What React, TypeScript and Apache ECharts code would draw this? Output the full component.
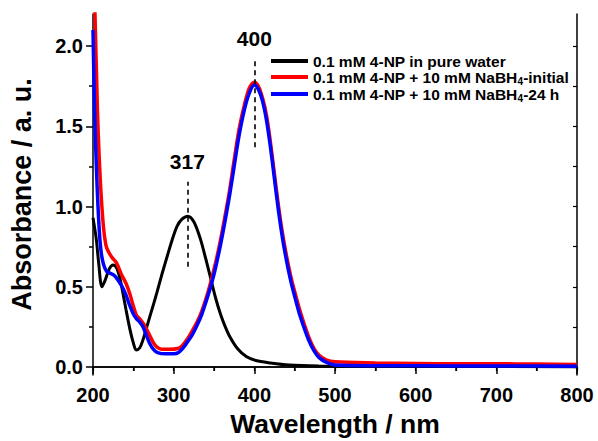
import React, { useEffect, useRef } from "react";
import * as echarts from "echarts";

const seriesNames = [
  "0.1 mM 4-NP in pure water",
  "0.1 mM 4-NP + 10 mM NaBH4-initial",
  "0.1 mM 4-NP + 10 mM NaBH4-24 h",
];

const wlWater = [200, 204, 207, 211, 215, 220, 225, 229, 233, 236, 241, 246, 250, 253.5, 258, 262, 266.7, 272, 279, 285, 292, 298, 304, 310, 317.5, 325, 333, 340, 346, 352, 358, 364, 370, 379, 390, 402, 420, 443, 480, 550, 650, 800];
const absWater = [0.93, 0.8, 0.65, 0.5, 0.54, 0.61, 0.635, 0.62, 0.56, 0.49, 0.355, 0.23, 0.15, 0.106, 0.12, 0.17, 0.25, 0.34, 0.46, 0.57, 0.69, 0.79, 0.875, 0.92, 0.94, 0.905, 0.8, 0.67, 0.55, 0.43, 0.33, 0.25, 0.185, 0.115, 0.065, 0.04, 0.025, 0.012, 0.006, 0.004, 0.003, 0.002];

const wlInitial = [200, 202.5, 205.5, 209, 213, 216, 219, 224, 229, 235, 241, 246, 250, 254, 258, 262.5, 267, 271, 275, 279, 285, 295, 305, 310, 317, 323, 329, 335, 341, 346, 352, 358, 364, 369, 375, 381, 388, 394, 400, 405, 410, 415, 420, 425, 430, 435, 440, 445, 450, 456, 462, 468, 474, 480, 489, 500, 550, 600, 650, 700, 750, 800];
const absInitial = [2.45, 2.19, 1.6, 1.17, 0.87, 0.76, 0.72, 0.68, 0.65, 0.58, 0.52, 0.45, 0.38, 0.32, 0.3, 0.27, 0.23, 0.19, 0.15, 0.125, 0.11, 0.11, 0.115, 0.13, 0.175, 0.225, 0.28, 0.35, 0.44, 0.53, 0.65, 0.79, 0.95, 1.09, 1.29, 1.48, 1.64, 1.74, 1.775, 1.75, 1.68, 1.57, 1.4, 1.2, 1.0, 0.83, 0.69, 0.57, 0.47, 0.36, 0.265, 0.18, 0.115, 0.075, 0.045, 0.032, 0.025, 0.022, 0.02, 0.02, 0.018, 0.015];

const wl24h = [200, 202, 204.6, 207.5, 210, 213, 217, 221, 225, 229, 235, 240, 245, 250, 254, 258, 262, 266, 270, 275, 280, 290, 300, 306, 312, 317, 323, 329, 335, 341, 347, 352, 358, 363, 369, 375, 381, 388, 394, 400, 405, 410, 415, 420, 425, 430, 435, 440, 445, 450, 456, 462, 468, 474, 480, 489, 500, 550, 600, 700, 800];
const abs24h = [2.1, 1.6, 1.19, 0.875, 0.72, 0.64, 0.595, 0.585, 0.575, 0.555, 0.51, 0.46, 0.39, 0.33, 0.3, 0.28, 0.25, 0.2, 0.15, 0.11, 0.09, 0.082, 0.082, 0.09, 0.12, 0.155, 0.2, 0.26, 0.33, 0.42, 0.52, 0.62, 0.76, 0.89, 1.06, 1.25, 1.44, 1.61, 1.71, 1.757, 1.73, 1.66, 1.54, 1.37, 1.17, 0.97, 0.8, 0.66, 0.54, 0.44, 0.33, 0.24, 0.16, 0.1, 0.06, 0.03, 0.012, 0.008, 0.007, 0.006, 0.005];

const peakWl = [317, 400];
const peakLabelY = [1.28, 2.045];
const peakDashFrom = [0.625, 1.37];
const peakDashTo = [1.155, 1.93];

const yLabelValues = [0, 0.5, 1, 1.5, 2];
const yMinorValues = [0.25, 0.75, 1.25, 1.75];
const yRightTicks = [0, 0.25, 0.5, 0.75, 1, 1.25, 1.5, 1.75, 2];

const FONT = "'Liberation Sans', Arial, sans-serif";

function zip(xs: number[], ys: number[]) {
  return xs.map((x, i) => [x, ys[i]]);
}

export default function App() {
  const ref = useRef<HTMLDivElement>(null);
  useEffect(() => {
    if (!ref.current) return;
    const chart = echarts.init(ref.current, undefined, { renderer: "svg" });
    const yBase = { type: "value", min: -0.05, max: 2.2, splitLine: { show: false } };
    const option: any = {
      animation: false,
      backgroundColor: "#fff",
      grid: { left: 93, right: 21, top: 14, bottom: 66, outerBoundsMode: "none", containLabel: false },
      legend: {
        orient: "vertical",
        left: 271,
        top: 53,
        padding: 0,
        icon: "rect",
        itemWidth: 37,
        itemHeight: 4,
        itemGap: 0,
        data: seriesNames,
        formatter: (name: string) => {
          const i = name.indexOf("NaBH4");
          if (i < 0) return "{a|" + name + "}";
          return "{a|" + name.slice(0, i + 4) + "}{s|4}{a|" + name.slice(i + 5) + "}";
        },
        textStyle: {
          fontFamily: FONT,
          fontWeight: "bold",
          fontSize: 15.5,
          color: "#000",
          rich: {
            a: { fontFamily: FONT, fontWeight: "bold", fontSize: 15.5, color: "#000", lineHeight: 18 },
            s: { fontFamily: FONT, fontWeight: "bold", fontSize: 10, color: "#000", verticalAlign: "bottom", padding: [4, 0, 0, 0], lineHeight: 18 },
          },
        },
      },
      xAxis: [
        {
          type: "value",
          min: 200,
          max: 800,
          interval: 100,
          position: "bottom",
          name: "Wavelength / nm",
          nameLocation: "middle",
          nameGap: 35,
          nameTextStyle: { fontFamily: FONT, fontWeight: "bold", fontSize: 26.5, color: "#000" },
          axisLine: { show: true, lineStyle: { color: "#000", width: 1.5 } },
          axisTick: { show: true, inside: false, length: 7, lineStyle: { color: "#000", width: 1.5 } },
          minorTick: { show: true, splitNumber: 2, length: 4, lineStyle: { color: "#000", width: 1.5 } },
          axisLabel: { margin: 10, fontFamily: FONT, fontWeight: "bold", fontSize: 20, color: "#000" },
          splitLine: { show: false },
        },
        {
          type: "value",
          min: 200,
          max: 800,
          interval: 50,
          position: "top",
          axisLine: { show: true, lineStyle: { color: "#000", width: 1.5 } },
          axisTick: { show: true, inside: true, length: 4, lineStyle: { color: "#000", width: 1.2 } },
          axisLabel: { show: false },
          splitLine: { show: false },
        },
      ],
      yAxis: [
        {
          ...yBase,
          position: "left",
          name: "Absorbance / a. u.",
          nameLocation: "middle",
          nameGap: 58,
          nameRotate: 90,
          nameTextStyle: { fontFamily: FONT, fontWeight: "bold", fontSize: 27, color: "#000" },
          axisLine: { show: true, lineStyle: { color: "#000", width: 1.5 } },
          axisTick: { show: true, inside: false, length: 7, customValues: yLabelValues, lineStyle: { color: "#000", width: 1.5 } },
          axisLabel: {
            margin: 10,
            customValues: yLabelValues,
            formatter: (v: number) => v.toFixed(1),
            fontFamily: FONT,
            fontWeight: "bold",
            fontSize: 20,
            color: "#000",
          },
        },
        {
          ...yBase,
          position: "left",
          axisLine: { show: false },
          axisTick: { show: true, inside: false, length: 4, customValues: yMinorValues, lineStyle: { color: "#000", width: 1.5 } },
          axisLabel: { show: false },
        },
        {
          ...yBase,
          position: "right",
          axisLine: { show: true, lineStyle: { color: "#000", width: 1.5 } },
          axisTick: { show: true, inside: true, length: 4, customValues: yRightTicks, lineStyle: { color: "#000", width: 1.2 } },
          axisLabel: { show: false },
        },
      ],
      series: [
        {
          name: seriesNames[0],
          type: "line",
          data: zip(wlWater, absWater),
          symbol: "none",
          smooth: 0.3,
          lineStyle: { color: "#000", width: 3 },
          itemStyle: { color: "#000" },
          z: 2,
          markLine: {
            silent: true,
            symbol: ["none", "none"],
            label: { show: false },
            lineStyle: { color: "#000", width: 1.6, type: [5, 4] },
            data: peakWl.map((w, i) => [
              { coord: [w, peakDashFrom[i]] },
              { coord: [w, peakDashTo[i]] },
            ]),
          },
          markPoint: {
            silent: true,
            symbol: "circle",
            symbolSize: 1,
            itemStyle: { color: "rgba(0,0,0,0)" },
            label: {
              show: true,
              position: "inside",
              formatter: (p: any) => p.name,
              fontFamily: FONT,
              fontWeight: "bold",
              fontSize: 21,
              color: "#000",
            },
            data: peakWl.map((w, i) => ({ name: String(w), coord: [w, peakLabelY[i]] })),
          },
        },
        {
          name: seriesNames[1],
          type: "line",
          data: zip(wlInitial, absInitial),
          symbol: "none",
          smooth: 0.3,
          lineStyle: { color: "#ff0000", width: 3.5 },
          itemStyle: { color: "#ff0000" },
          z: 3,
        },
        {
          name: seriesNames[2],
          type: "line",
          data: zip(wl24h, abs24h),
          symbol: "none",
          smooth: 0.3,
          lineStyle: { color: "#0000ff", width: 3.5 },
          itemStyle: { color: "#0000ff" },
          z: 4,
        },
      ],
    };
    chart.setOption(option);
    return () => chart.dispose();
  }, []);
  return (
    <div
      ref={ref}
      style={{ position: "fixed", left: 0, top: 0, width: 598, height: 441, background: "#fff" }}
    />
  );
}
